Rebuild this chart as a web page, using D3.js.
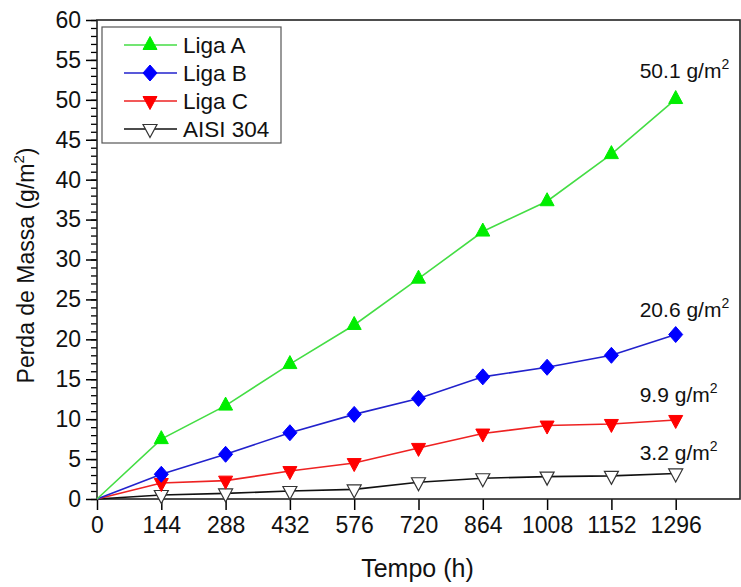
<!DOCTYPE html>
<html>
<head>
<meta charset="utf-8">
<script src="https://cdn.jsdelivr.net/npm/d3@7"></script>
<style>
  html, body { margin: 0; padding: 0; background: #fff; }
  svg { display: block; font-family: "Liberation Sans", Arial, sans-serif; }
</style>
</head>
<body>
<svg id="chart" width="741" height="587"></svg>
<script>
// Exposure time (h)
const hours = [0, 144, 288, 432, 576, 720, 864, 1008, 1152, 1296];
// Mass loss (g/m²) per alloy
const ligaA = [0, 7.5, 11.7, 16.9, 21.8, 27.6, 33.5, 37.3, 43.2, 50.1];
const ligaB = [0, 3.1, 5.6, 8.3, 10.6, 12.6, 15.3, 16.5, 18.0, 20.6];
const ligaC = [0, 2.0, 2.3, 3.5, 4.5, 6.4, 8.2, 9.2, 9.4, 9.9];
const aisi304 = [0, 0.5, 0.7, 1.0, 1.2, 2.1, 2.6, 2.8, 2.9, 3.2];
const seriesNames = ["Liga A", "Liga B", "Liga C", "AISI 304"];
const xTicks = [0, 144, 288, 432, 576, 720, 864, 1008, 1152, 1296];
const yTicks = [0, 5, 10, 15, 20, 25, 30, 35, 40, 45, 50, 55, 60];
const finalLabels = ["50.1", "20.6", "9.9", "3.2"];

const svg = d3.select("#chart");
const mLeft = 97, mRight = 740, mTop = 20, mBottom = 499;

const x = d3.scaleLinear().domain([0, 1440]).range([mLeft, mRight]);
const y = d3.scaleLinear().domain([0, 60]).range([mBottom, mTop]);

const styles = [
  { values: ligaA, line: "#44dd44", fill: "#00ee00", stroke: "#00ee00", shape: "up" },
  { values: ligaB, line: "#2222cc", fill: "#0000ff", stroke: "#0000ff", shape: "diamond" },
  { values: ligaC, line: "#ee2222", fill: "#ff0000", stroke: "#ff0000", shape: "down" },
  { values: aisi304, line: "#111111", fill: "#ffffff", stroke: "#333333", shape: "downOpen" }
];

function markerPath(shape) {
  if (shape === "up") return "M0,-8.5L7,4.5L-7,4.5Z";
  if (shape === "diamond") return "M0,-8L7,0L0,8L-7,0Z";
  return "M0,8.5L7,-4.5L-7,-4.5Z";
}

// minor y ticks
const yAxisMinor = d3.axisLeft(y).tickValues(d3.range(0, 61, 1)).tickSize(6).tickFormat("");
svg.append("g").attr("transform", `translate(${mLeft},0)`).call(yAxisMinor)
  .call(g => g.select(".domain").remove())
  .call(g => g.selectAll("line").attr("stroke", "#000").attr("stroke-width", 1.3));

// major y ticks
const yAxis = d3.axisLeft(y).tickValues(yTicks).tickSize(11).tickPadding(5).tickFormat(d3.format("d"));
svg.append("g").attr("transform", `translate(${mLeft},0)`).call(yAxis)
  .call(g => g.select(".domain").remove())
  .call(g => g.selectAll("line").attr("stroke", "#000").attr("stroke-width", 1.5))
  .call(g => g.selectAll("text").attr("font-size", 23).attr("fill", "#111")
    .attr("font-family", "Liberation Sans, Arial, sans-serif"));

// x ticks
const xAxis = d3.axisBottom(x).tickValues(xTicks).tickSize(11).tickPadding(7).tickFormat(d3.format("d"));
svg.append("g").attr("transform", `translate(0,${mBottom})`).call(xAxis)
  .call(g => g.select(".domain").remove())
  .call(g => g.selectAll("line").attr("stroke", "#000").attr("stroke-width", 1.5))
  .call(g => g.selectAll("text").attr("font-size", 23).attr("fill", "#111")
    .attr("font-family", "Liberation Sans, Arial, sans-serif"));

// frame
svg.append("rect").attr("x", mLeft).attr("y", mTop)
  .attr("width", mRight - mLeft).attr("height", mBottom - mTop)
  .attr("fill", "none").attr("stroke", "#222").attr("stroke-width", 1.6);

// series lines and markers
const line = d3.line().x((d, i) => x(hours[i])).y(d => y(d));
styles.slice().reverse().forEach(s => {
  svg.append("path").datum(s.values).attr("d", line)
    .attr("fill", "none").attr("stroke", s.line).attr("stroke-width", 1.6);
});
styles.slice().reverse().forEach(s => {
  svg.append("g").selectAll("path").data(s.values.slice(1)).join("path")
    .attr("transform", (d, i) => `translate(${x(hours[i + 1])},${y(d)})`)
    .attr("d", markerPath(s.shape))
    .attr("fill", s.fill).attr("stroke", s.stroke).attr("stroke-width", s.shape === "downOpen" ? 1.2 : 1);
});

// end-point value labels
const labelDy = [-21, -18, -18, -13];
const series = [ligaA, ligaB, ligaC, aisi304];
finalLabels.forEach((lab, i) => {
  const v = series[i][series[i].length - 1];
  const t = svg.append("text")
    .attr("x", x(1296) - 36).attr("y", y(v) + labelDy[i])
    .attr("font-size", 21).attr("fill", "#111");
  t.append("tspan").text(lab + " g/m");
  t.append("tspan").attr("dy", -9).attr("font-size", 14).text("2");
});

// axis titles
svg.append("text").attr("x", (mLeft + mRight) / 2 - 1).attr("y", 577)
  .attr("text-anchor", "middle").attr("font-size", 25).attr("fill", "#111")
  .text("Tempo (h)");

const yt = svg.append("text")
  .attr("transform", `translate(34,${(mTop + mBottom) / 2 + 6}) rotate(-90)`)
  .attr("text-anchor", "middle").attr("font-size", 23).attr("fill", "#111");
yt.append("tspan").text("Perda de Massa (g/m");
yt.append("tspan").attr("dy", -10).attr("font-size", 15).text("2");
yt.append("tspan").attr("dy", 10).text(")");

// legend
const lg = svg.append("g");
lg.append("rect").attr("x", 102).attr("y", 27).attr("width", 179).attr("height", 116)
  .attr("fill", "#fff").attr("stroke", "#555").attr("stroke-width", 1.2);
seriesNames.forEach((name, i) => {
  const cy = 45 + i * 28;
  const s = styles[i];
  lg.append("line").attr("x1", 124).attr("x2", 177).attr("y1", cy).attr("y2", cy)
    .attr("stroke", s.line).attr("stroke-width", 1.6);
  lg.append("path").attr("transform", `translate(150,${cy})`).attr("d", markerPath(s.shape))
    .attr("fill", s.fill).attr("stroke", s.stroke).attr("stroke-width", s.shape === "downOpen" ? 1.2 : 1);
  lg.append("text").attr("x", 183).attr("y", cy + 8).attr("font-size", 22.5).attr("fill", "#111").text(name);
});
</script>
</body>
</html>
